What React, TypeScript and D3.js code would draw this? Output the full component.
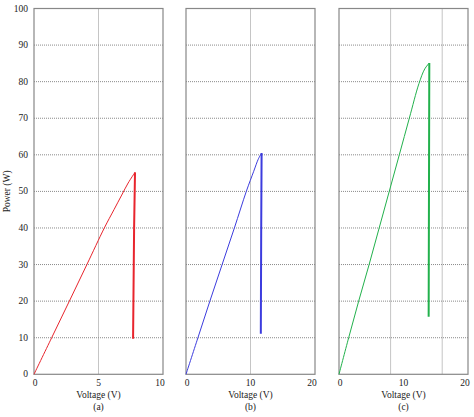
import React from 'react';
import * as d3 from 'd3';

// P-V curves for three panels: rising part and the drop segment (voltage V, power W)
const panelLabels = ['(a)', '(b)', '(c)'];
const xMaxes = [10, 20, 20];
const xTicks = [[0, 5, 10], [0, 10, 20], [0, 10, 20]];
const xGrid = [[5], [10], [8, 16]];
const yTicks = [0, 10, 20, 30, 40, 50, 60, 70, 80, 90, 100];
const colors = ['#e8252d', '#3c3cde', '#22b14c'];

const riseA: [number, number][] = [[0, 0], [1.37, 10], [2.74, 20], [4.1, 30], [5.45, 40], [6.2, 45], [6.8, 49], [7.3, 52.3], [7.83, 55.2]];
const dropA: [number, number][] = [[7.83, 55.2], [7.76, 40], [7.72, 25], [7.68, 9.7]];
const riseB: [number, number][] = [[0, 0], [1.85, 10], [3.7, 20], [5.6, 30], [7.5, 40], [9.35, 50], [10.5, 55.5], [11.2, 58.8], [11.72, 60.5]];
const dropB: [number, number][] = [[11.72, 60.5], [11.66, 40], [11.6, 11.1]];
const riseC: [number, number][] = [[0, 0], [1.5, 10], [3.05, 20], [4.67, 30], [6.23, 40], [7.79, 50], [9.35, 60], [10.9, 70], [12.4, 79.5], [13.3, 83.5], [14.0, 85.1]];
const dropC: [number, number][] = [[14.0, 85.1], [13.95, 50], [13.9, 15.7]];

const rises = [riseA, riseB, riseC];
const drops = [dropA, dropB, dropC];

const W = 474;
const H = 417;
const panelLeft = [34, 186, 339];
const panelW = 129;
const top = 8.5;
const bottom = 374.3;
const font = '"Liberation Serif", "Times New Roman", serif';

const App: React.FC = () => {
  const y = d3.scaleLinear().domain([0, 100]).range([bottom, top]);

  return (
    <svg width={W} height={H} style={{ position: 'absolute', left: 0, top: 0, background: '#fff' }} fontFamily={font}>
      <rect width={W} height={H} fill="#fff" />
      {panelLabels.map((lab, i) => {
        const x = d3.scaleLinear().domain([0, xMaxes[i]]).range([panelLeft[i], panelLeft[i] + panelW]);
        const line = d3.line<[number, number]>().x(d => x(d[0])).y(d => y(d[1])).curve(d3.curveCatmullRom.alpha(0.5));
        const dropLine = d3.line<[number, number]>().x(d => x(d[0])).y(d => y(d[1]));
        const cx = panelLeft[i] + panelW / 2;
        return (
          <g key={lab}>
            {/* horizontal grid */}
            {yTicks.slice(1, -1).map(t => (
              <line key={'h' + t} x1={x(0)} x2={x(xMaxes[i])} y1={y(t)} y2={y(t)}
                stroke="#8a8a8a" strokeWidth={1} strokeDasharray="1,1" />
            ))}
            {/* vertical grid */}
            {xGrid[i].map(g => (
              <line key={'v' + g} x1={x(g)} x2={x(g)} y1={top} y2={bottom}
                stroke="#8a8a8a" strokeWidth={1} strokeDasharray="1,1" />
            ))}
            <rect x={x(0)} y={top} width={panelW} height={bottom - top} fill="none" stroke="#888" strokeWidth={1.2} />
            <path d={line(rises[i]) || ''} fill="none" stroke={colors[i]} strokeWidth={1} />
            <path d={dropLine(drops[i]) || ''} fill="none" stroke={colors[i]} strokeWidth={2} />
            {xTicks[i].map(t => (
              <text key={'xt' + t} x={x(t) - (t === xMaxes[i] ? 3 : t === 0 ? -1 : 0)} y={386} fontSize={9.5} textAnchor="middle" fill="#222">{t}</text>
            ))}
            <text x={cx} y={397.5} fontSize={9.5} textAnchor="middle" fill="#222">Voltage (V)</text>
            <text x={cx} y={409.5} fontSize={9.5} textAnchor="middle" fill="#222">{lab}</text>
          </g>
        );
      })}
      {yTicks.map(t => (
        <text key={'yt' + t} x={28} y={y(t) + 3} fontSize={9.5} textAnchor="end" fill="#222">{t}</text>
      ))}
      <text transform={`translate(10,${y(50)}) rotate(-90)`} fontSize={9.5} textAnchor="middle" fill="#222">Power (W)</text>
    </svg>
  );
};

export default App;
